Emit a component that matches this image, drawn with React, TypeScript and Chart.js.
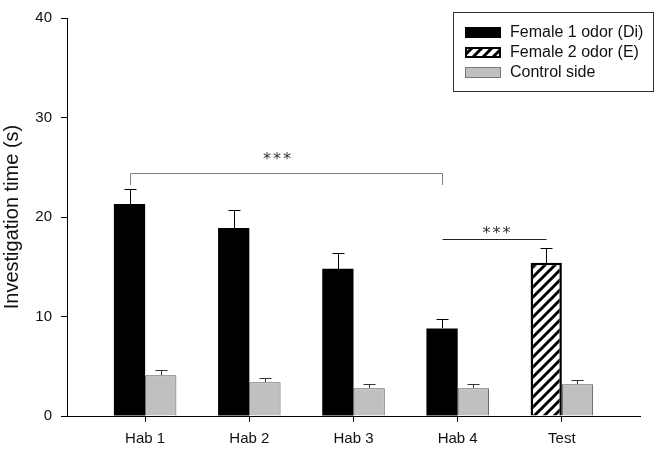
import React, { useEffect, useRef } from 'react';
import { Chart, registerables } from 'chart.js';

Chart.register(...registerables);

// ---- data ----
const categories = ['Hab 1', 'Hab 2', 'Hab 3', 'Hab 4', 'Test'];
const seriesLabels = ['Female 1 odor (Di)', 'Female 2 odor (E)', 'Control side'];

const female1Index = [0, 1, 2, 3];
const female1Values = [21.3, 18.9, 14.8, 8.8];
const female1Err = [1.5, 1.85, 1.6, 0.95];

const female2Index = [4];
const female2Values = [15.4];
const female2Err = [1.45];

const controlIndex = [0, 1, 2, 3, 4];
const controlValues = [4.1, 3.4, 2.8, 2.8, 3.2];
const controlErr = [0.55, 0.4, 0.4, 0.45, 0.4];

const yTicks = [0, 10, 20, 30, 40];
const yTitle = 'Investigation time (s)';
const sigText = '***';

// significance marks: from/to = [datasetIndex, pointIndex]
const bracketFrom = [[0, 0], [0, 3]];
const bracketTo = [[0, 3], [1, 0]];
const bracketLevel = [24.4, 17.75];
const bracketDrop = [1.15, 0];
const starLevel = [26.3, 18.9];
const starShift = [-0.09, 0.02];

const errors = [female1Err, female2Err, controlErr];

const FONT = "'Liberation Sans', Arial, Helvetica, sans-serif";

function makeHatch(ctx: CanvasRenderingContext2D) {
  const c = document.createElement('canvas');
  c.width = 10;
  c.height = 10;
  const g = c.getContext('2d')!;
  g.fillStyle = '#fff';
  g.fillRect(0, 0, 10, 10);
  g.strokeStyle = '#000';
  g.lineWidth = 3;
  g.beginPath();
  g.moveTo(-5, 5);
  g.lineTo(5, -5);
  g.moveTo(-1, 11);
  g.lineTo(11, -1);
  g.moveTo(5, 15);
  g.lineTo(15, 5);
  g.stroke();
  return ctx.createPattern(c, 'repeat')!;
}

export default function App() {
  const ref = useRef<HTMLCanvasElement>(null);

  useEffect(() => {
    const canvas = ref.current!;
    const ctx = canvas.getContext('2d')!;
    const hatch = makeHatch(ctx);
    const gray = '#c0c0c0';

    const overlay = {
      id: 'overlay',
      afterDatasetsDraw(chart: any) {
        const c = chart.ctx;
        const y = chart.scales.y;
        const x = chart.scales.x;
        c.save();
        // error bars
        chart.data.datasets.forEach((ds: any, di: number) => {
          const meta = chart.getDatasetMeta(di);
          meta.data.forEach((bar: any, pi: number) => {
            const v = ds.data[pi].y;
            const e = errors[di][pi];
            const top = Math.round(y.getPixelForValue(v + e)) + 0.5;
            const bx = Math.round(bar.x) + 0.5;
            c.strokeStyle = di === 2 ? '#333' : '#000';
            c.lineWidth = 1;
            c.beginPath();
            c.moveTo(bx, Math.round(bar.y));
            c.lineTo(bx, top);
            c.moveTo(bx - 6, top);
            c.lineTo(bx + 6, top);
            c.stroke();
          });
        });
        // brackets
        bracketFrom.forEach((f, i) => {
          const t = bracketTo[i];
          const x1 = Math.round(chart.getDatasetMeta(f[0]).data[f[1]].x) + 0.5;
          const x2 = Math.round(chart.getDatasetMeta(t[0]).data[t[1]].x) + 0.5;
          const ly = Math.round(y.getPixelForValue(bracketLevel[i])) + 0.5;
          c.strokeStyle = i === 0 ? '#808080' : '#222';
          c.lineWidth = 1;
          c.beginPath();
          if (bracketDrop[i] > 0) {
            const dy = Math.round(y.getPixelForValue(bracketLevel[i] - bracketDrop[i]));
            c.moveTo(x1, dy);
            c.lineTo(x1, ly);
            c.lineTo(x2, ly);
            c.lineTo(x2, dy);
          } else {
            c.moveTo(x1, ly);
            c.lineTo(x2, ly);
          }
          c.stroke();
          const unit = x.getPixelForValue(1) - x.getPixelForValue(0);
          const sx = (x1 + x2) / 2 + starShift[i] * unit;
          const sy = y.getPixelForValue(starLevel[i]);
          const fs = 16;
          c.fillStyle = '#333';
          c.font = `${fs}px 'DejaVu Sans', sans-serif`;
          (c as any).letterSpacing = '2px';
          c.textAlign = 'center';
          c.textBaseline = 'alphabetic';
          c.fillText(sigText, sx + 1, sy + 0.62 * fs);
          (c as any).letterSpacing = '0px';
        });
        c.restore();
      },
      afterDraw(chart: any) {
        const c = chart.ctx;
        c.save();
        c.fillStyle = '#fff';
        c.fillRect(453, 12, 200, 80);
        c.strokeStyle = '#333';
        c.lineWidth = 1;
        c.strokeRect(453.5, 12.5, 200, 79);
        const rows = [32.5, 52.5, 72.5];
        seriesLabels.forEach((lab, i) => {
          const ry = rows[i];
          if (i === 0) {
            c.fillStyle = '#000';
            c.fillRect(465, ry - 5.5, 36, 11);
          } else if (i === 1) {
            c.fillStyle = hatch;
            c.fillRect(465, ry - 5, 36, 10);
            c.strokeStyle = '#000';
            c.lineWidth = 2;
            c.strokeRect(466, ry - 4.5, 34, 9);
          } else {
            c.fillStyle = gray;
            c.fillRect(465, ry - 5.5, 36, 11);
            c.strokeStyle = '#777';
            c.lineWidth = 1;
            c.strokeRect(465.5, ry - 5, 35, 10);
          }
          c.fillStyle = '#111';
          c.font = `16px ${FONT}`;
          c.textAlign = 'left';
          c.textBaseline = 'middle';
          c.fillText(lab, 510, ry + 0.5);
        });
        c.restore();
      },
    };

    const chart = new Chart(ctx, {
      type: 'bar',
      data: {
        datasets: [
          {
            label: seriesLabels[0],
            stack: 'odor',
            data: female1Index.map((xi, i) => ({ x: xi, y: female1Values[i] })),
            backgroundColor: '#000',
            borderWidth: 0,
          },
          {
            label: seriesLabels[1],
            stack: 'odor',
            data: female2Index.map((xi, i) => ({ x: xi, y: female2Values[i] })),
            backgroundColor: hatch,
            borderColor: '#000',
            borderWidth: 2.5,
          },
          {
            label: seriesLabels[2],
            stack: 'ctrl',
            data: controlIndex.map((xi, i) => ({ x: xi, y: controlValues[i] })),
            backgroundColor: gray,
            borderColor: '#555',
            borderWidth: 1,
          },
        ] as any,
      },
      options: {
        animation: false,
        responsive: false,
        layout: { padding: { left: 0, right: 22, top: 15, bottom: 0 } },
        datasets: { bar: { categoryPercentage: 0.6, barPercentage: 1 } } as any,
        plugins: { legend: { display: false }, tooltip: { enabled: false } },
        scales: {
          x: {
            type: 'linear',
            min: -0.75,
            max: 4.75,
            offset: false,
            stacked: true,
            afterBuildTicks: (s: any) => {
              s.ticks = categories.map((_, i) => ({ value: i }));
            },
            afterFit: (s: any) => {
              s.height = 37;
            },
            ticks: {
              callback: (v: any) => categories[v] ?? '',
              font: { family: FONT, size: 15 },
              color: '#111',
              padding: 8,
              maxRotation: 0,
              autoSkip: false,
            },
            grid: { offset: false, drawOnChartArea: false, drawTicks: true, tickLength: 6, color: '#000' },
            border: { color: '#000', width: 1 },
          },
          y: {
            min: 0,
            max: 40,
            stacked: true,
            afterBuildTicks: (s: any) => {
              s.ticks = yTicks.map((v) => ({ value: v }));
            },
            afterFit: (s: any) => {
              s.width = 67;
            },
            ticks: {
              font: { family: FONT, size: 15 },
              color: '#111',
              padding: 9,
            },
            grid: { drawOnChartArea: false, drawTicks: true, tickLength: 6, color: '#000' },
            border: { color: '#000', width: 1 },
            title: {
              display: true,
              text: yTitle,
              font: { family: FONT, size: 20 },
              color: '#111',
              padding: 0,
            },
          },
        } as any,
      },
      plugins: [overlay],
    });
    return () => chart.destroy();
  }, []);

  return (
    <div style={{ position: 'fixed', left: 0, top: 0, width: 662, height: 453, background: '#fff' }}>
      <canvas ref={ref} width={662} height={453} style={{ display: 'block' }} />
    </div>
  );
}
